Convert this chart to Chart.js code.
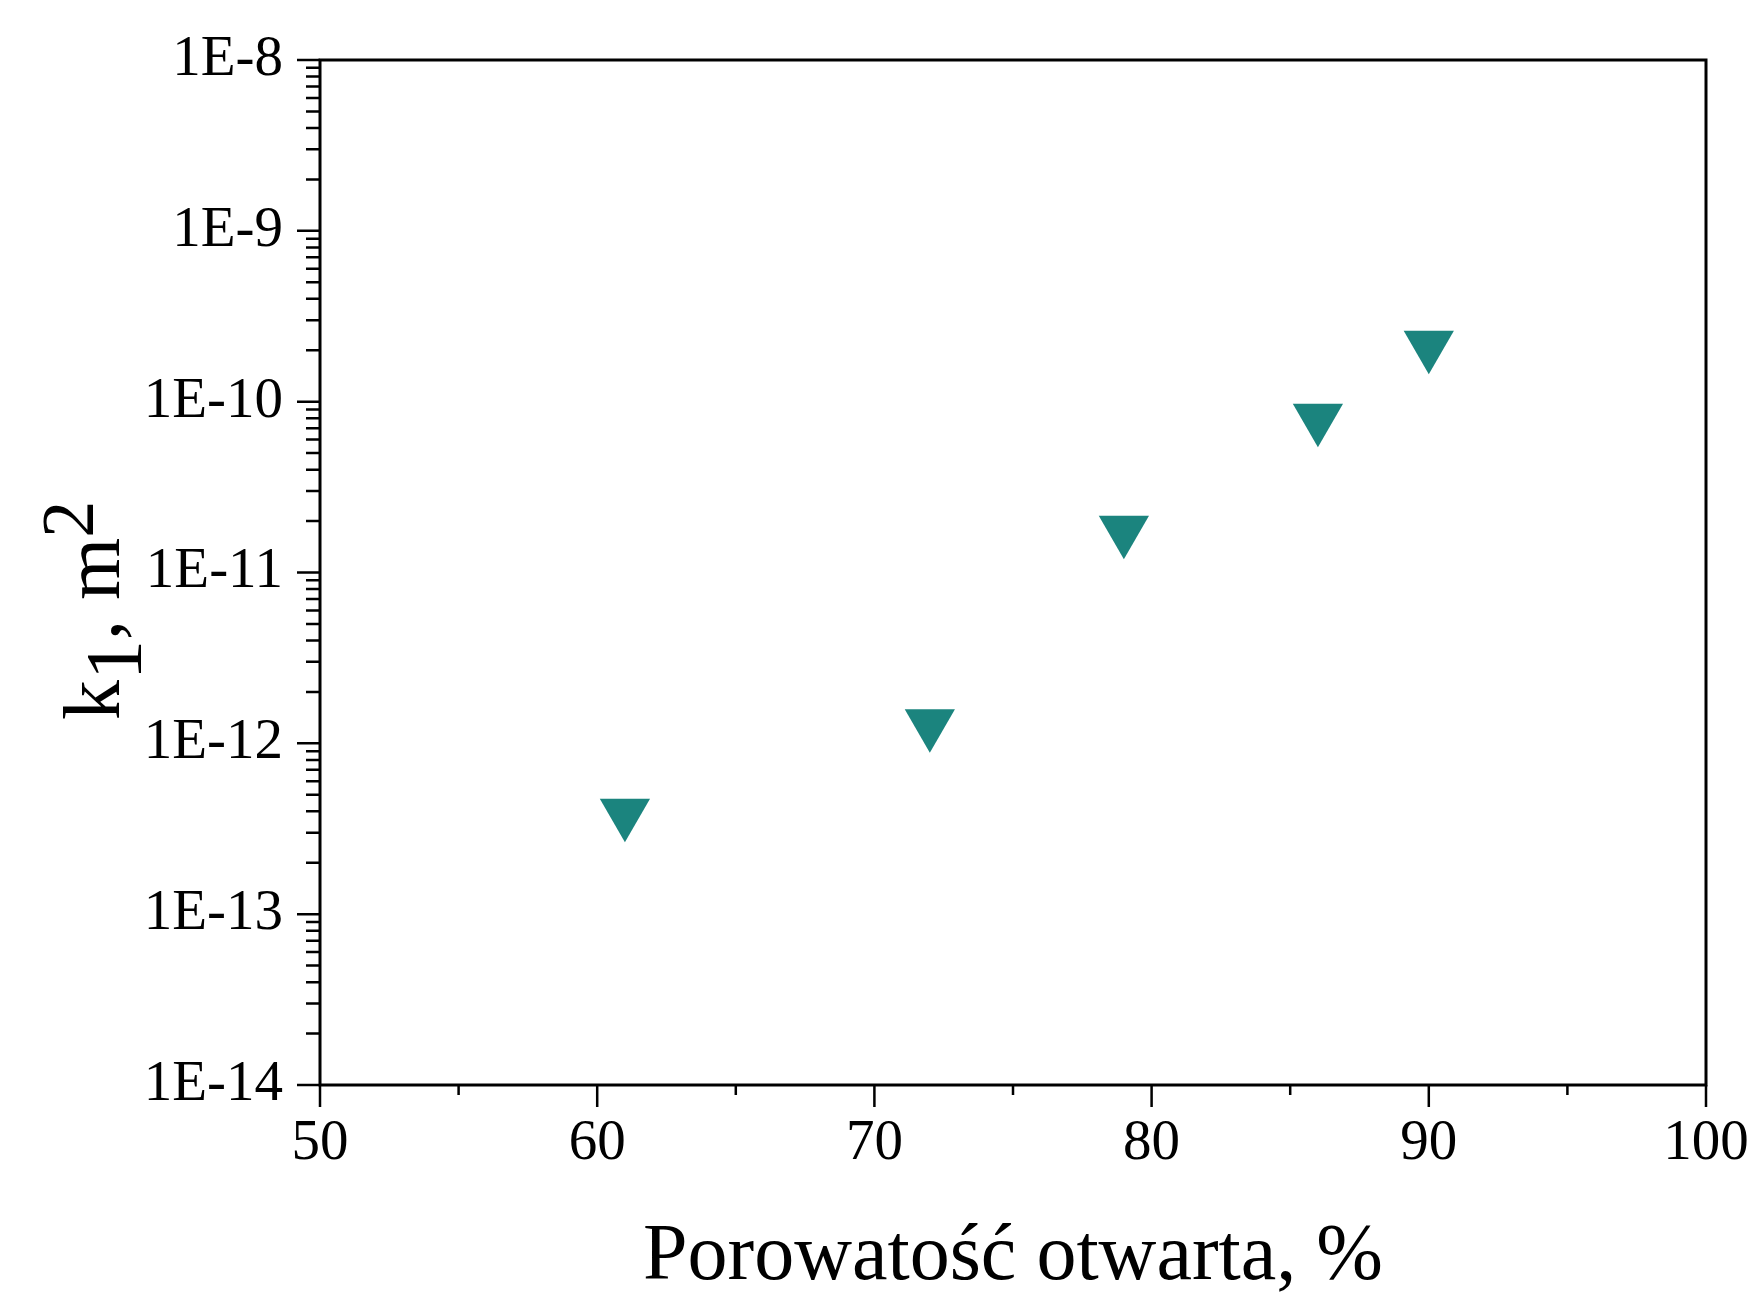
<!DOCTYPE html>
<html>
<head>
<meta charset="utf-8">
<script src="https://cdn.jsdelivr.net/npm/chart.js@4.4.0/dist/chart.umd.min.js"></script>
<style>
  html, body { margin: 0; padding: 0; background: #fff; }
  #wrap { width: 1752px; height: 1292px; }
</style>
</head>
<body>
<div id="wrap"><canvas id="c" width="1752" height="1292"></canvas></div>
<script>
// data
const porosity = [61, 72, 79, 86, 90];
const k1 = [3.9e-13, 1.3e-12, 1.77e-11, 8.0e-11, 2.14e-10];
const xTicks = [50, 60, 70, 80, 90, 100];
const yTicks = [1e-14, 1e-13, 1e-12, 1e-11, 1e-10, 1e-9, 1e-8];
const xTitle = 'Porowatość otwarta, %';

const serif = '"Liberation Serif", "Times New Roman", serif';

// keep label overflow from pushing the plot area around
const noPad = (s) => { s.paddingTop = 0; s.paddingBottom = 0; s.paddingLeft = 0; s.paddingRight = 0; };

// Origin-style frame + outward ticks (major/minor)
const frame = {
  id: 'frame',
  afterDraw(chart) {
    const { ctx, chartArea: a, scales: { x, y } } = chart;
    ctx.save();
    ctx.strokeStyle = '#000';
    ctx.lineWidth = 3;
    ctx.strokeRect(a.left, a.top, a.right - a.left, a.bottom - a.top);

    ctx.lineWidth = 2.5;
    ctx.beginPath();
    xTicks.forEach((v, i) => {
      const px = x.getPixelForValue(v);
      ctx.moveTo(px, a.bottom); ctx.lineTo(px, a.bottom + 22);
      if (i < xTicks.length - 1) {
        const pm = x.getPixelForValue((v + xTicks[i + 1]) / 2);
        ctx.moveTo(pm, a.bottom); ctx.lineTo(pm, a.bottom + 10);
      }
    });
    yTicks.forEach((v, i) => {
      const py = y.getPixelForValue(v);
      ctx.moveTo(a.left, py); ctx.lineTo(a.left - 23, py);
      if (i < yTicks.length - 1) {
        for (let m = 2; m <= 9; m++) {
          const pm = y.getPixelForValue(v * m);
          ctx.moveTo(a.left, pm); ctx.lineTo(a.left - 14, pm);
        }
      }
    });
    ctx.stroke();

    // y title: k1, m2 with sub/superscript
    ctx.translate(a.left - 201, a.bottom - 365);
    ctx.rotate(-Math.PI / 2);
    ctx.fillStyle = '#000';
    ctx.textBaseline = 'alphabetic';
    ctx.textAlign = 'left';
    let cx = 0;
    const part = (t, size, dy) => {
      ctx.font = size + 'px ' + serif;
      ctx.fillText(t, cx, dy);
      cx += ctx.measureText(t).width;
    };
    part('k', 80, 0);
    part('1', 80, 22);
    part(', m', 80, 0);
    part('2', 74, -26);
    ctx.restore();
  }
};

new Chart(document.getElementById('c').getContext('2d'), {
  type: 'scatter',
  data: {
    datasets: [{
      data: porosity.map((p, i) => ({ x: p, y: k1[i] })),
      pointStyle: 'triangle',
      rotation: 180,
      pointRadius: 29,
      pointHoverRadius: 29,
      backgroundColor: '#1b847e',
      borderWidth: 0,
    }],
  },
  options: {
    responsive: false,
    animation: false,
    events: [],
    layout: { padding: { left: 0, top: 60, right: 46, bottom: 0 } },
    plugins: { legend: { display: false }, tooltip: { enabled: false } },
    scales: {
      x: {
        type: 'linear',
        min: 50, max: 100,
        afterBuildTicks: (s) => { s.ticks = xTicks.map((v) => ({ value: v })); },
        afterFit: (s) => { s.height = 207; noPad(s); },
        grid: { display: false, drawTicks: false },
        border: { display: false },
        ticks: { color: '#000', padding: 25, maxRotation: 0, font: { family: serif, size: 57, lineHeight: 1.2 } },
        title: { display: true, text: xTitle, color: '#000', padding: 0, font: { family: serif, size: 80, lineHeight: 0.85 } },
      },
      y: {
        type: 'logarithmic',
        min: 1e-14, max: 1e-8,
        afterBuildTicks: (s) => { s.ticks = yTicks.map((v) => ({ value: v })); },
        afterFit: (s) => { s.width = 320; noPad(s); },
        grid: { display: false, drawTicks: false },
        border: { display: false },
        ticks: {
          color: '#000', padding: 37,
          font: { family: serif, size: 57 },
          callback: (v) => '1E' + Math.round(Math.log10(v)),
        },
      },
    },
  },
  plugins: [frame],
});
</script>
</body>
</html>
